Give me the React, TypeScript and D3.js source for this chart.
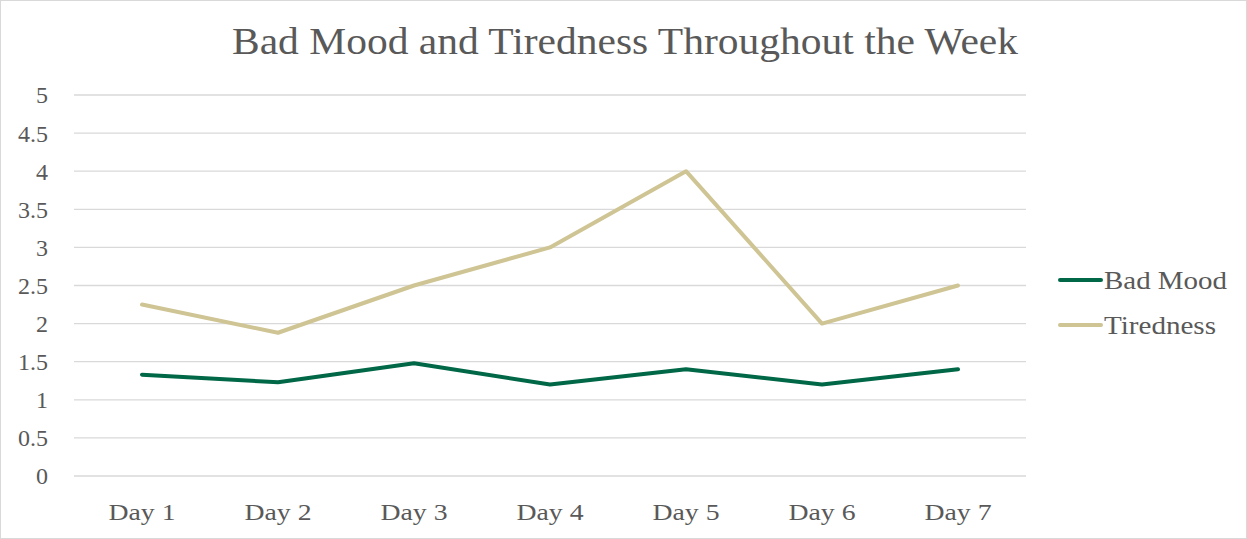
import React from "react";
import * as d3 from "d3";

const days = ["Day 1", "Day 2", "Day 3", "Day 4", "Day 5", "Day 6", "Day 7"];
const badMood = [1.33, 1.23, 1.48, 1.2, 1.4, 1.2, 1.4];
const tiredness = [2.25, 1.88, 2.5, 3, 4, 2, 2.5];
const yTicks = [0, 0.5, 1, 1.5, 2, 2.5, 3, 3.5, 4, 4.5, 5];
const seriesNames = ["Bad Mood", "Tiredness"];
const seriesColors = ["#006747", "#CFC493"];
const legendWidths = [123, 112];

const W = 1247;
const H = 539;
const FONT = "'Liberation Serif', 'DejaVu Serif', serif";
const TEXT = "#595959";

export default function App() {
  const x = d3.scaleBand<string>().domain(days).range([74, 1026]);
  const y = d3.scaleLinear().domain([0, 5]).range([476, 95]);
  const cx = (d: string) => (x(d) as number) + x.bandwidth() / 2;
  const line = d3
    .line<number>()
    .x((_, i) => cx(days[i]))
    .y((v) => y(v));
  const series = [badMood, tiredness];

  return (
    <svg
      width={W}
      height={H}
      style={{ position: "absolute", left: 0, top: 0, background: "#fff" }}
    >
      <rect x={0.5} y={0.5} width={W - 1} height={H - 1} fill="#fff" stroke="#d9d9d9" />
      <text
        x={625}
        y={54}
        textAnchor="middle"
        fontFamily={FONT}
        fontSize={38}
        fill={TEXT}
        textLength={786}
        lengthAdjust="spacingAndGlyphs"
      >
        Bad Mood and Tiredness Throughout the Week
      </text>
      {yTicks.map((t) => (
        <g key={t}>
          <line x1={74} x2={1026} y1={y(t)} y2={y(t)} stroke="#d9d9d9" strokeWidth={1.3} />
          <text
            x={48}
            y={y(t)}
            dy="0.35em"
            textAnchor="end"
            fontFamily={FONT}
            fontSize={24}
            fill={TEXT}
          >
            {t}
          </text>
        </g>
      ))}
      {days.map((d) => (
        <text
          key={d}
          x={cx(d)}
          y={520}
          textAnchor="middle"
          fontFamily={FONT}
          fontSize={24}
          fill={TEXT}
          textLength={67}
          lengthAdjust="spacingAndGlyphs"
        >
          {d}
        </text>
      ))}
      {series.map((s, i) => (
        <path
          key={seriesNames[i]}
          d={line(s) as string}
          fill="none"
          stroke={seriesColors[i]}
          strokeWidth={4}
          strokeLinejoin="round"
          strokeLinecap="round"
        />
      ))}
      {seriesNames.map((n, i) => (
        <g key={n} transform={`translate(0, ${280 + i * 45})`}>
          <line x1={1060} x2={1101} y1={0} y2={0} stroke={seriesColors[i]} strokeWidth={4} strokeLinecap="round" />
          <text
            x={1104}
            y={0}
            dy="0.35em"
            fontFamily={FONT}
            fontSize={25}
            fill={TEXT}
            textLength={legendWidths[i]}
            lengthAdjust="spacingAndGlyphs"
          >
            {n}
          </text>
        </g>
      ))}
    </svg>
  );
}
